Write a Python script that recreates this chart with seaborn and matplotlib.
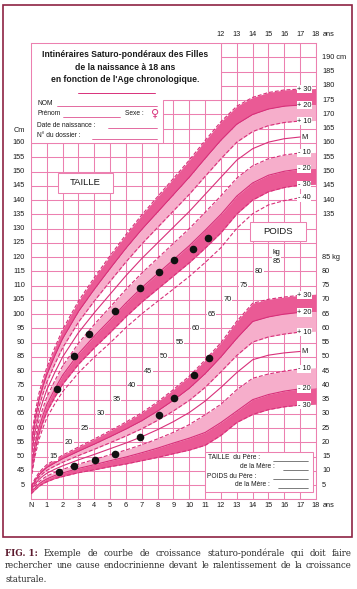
import matplotlib
matplotlib.use("Agg")
import matplotlib.pyplot as plt
from matplotlib.patches import Polygon, Rectangle
import seaborn as sns

# ages (years) at which the reference curves are read
AGES = [0, 0.25, 0.5, 0.75, 1, 1.5, 2, 3, 4, 5, 6, 7, 8, 9, 10, 11, 12, 13, 14, 15, 16, 17, 18]

# height (cm)
H_P30 = [55.5, 65.1, 72.2, 77.0, 81.3, 88.2, 94.6, 104.6, 112.8, 120.5, 127.9, 134.8, 141.2, 147.6, 154.0, 160.9, 167.5, 172.9, 176.0, 177.7, 178.6, 178.9, 179.1]
H_P20 = [53.5, 62.9, 69.8, 74.5, 78.7, 85.3, 91.4, 100.9, 108.7, 116.0, 123.1, 129.7, 135.8, 141.9, 148.0, 154.6, 161.0, 166.6, 170.0, 171.9, 172.9, 173.3, 173.5]
H_P10 = [51.5, 60.7, 67.4, 72.0, 76.1, 82.4, 88.2, 97.2, 104.6, 111.5, 118.3, 124.6, 130.4, 136.2, 142.0, 148.3, 154.5, 160.3, 164.0, 166.1, 167.2, 167.7, 167.9]
H_M = [49.5, 58.5, 65.0, 69.5, 73.5, 79.5, 85.0, 93.5, 100.5, 107.0, 113.5, 119.5, 125.0, 130.5, 136.0, 142.0, 148.0, 154.0, 158.0, 160.3, 161.5, 162.1, 162.3]
H_M10 = [47.5, 56.3, 62.6, 67.0, 70.9, 76.6, 81.8, 89.8, 96.4, 102.5, 108.7, 114.4, 119.6, 124.8, 130.0, 135.7, 141.5, 147.7, 152.0, 154.5, 155.8, 156.5, 156.7]
H_M20 = [45.5, 54.1, 60.2, 64.5, 68.3, 73.7, 78.6, 86.1, 92.3, 98.0, 103.9, 109.3, 114.2, 119.1, 124.0, 129.4, 135.0, 141.4, 146.0, 148.7, 150.1, 150.9, 151.1]
H_M30 = [43.5, 51.9, 57.8, 62.0, 65.7, 70.8, 75.4, 82.4, 88.2, 93.5, 99.1, 104.2, 108.8, 113.4, 118.0, 123.1, 128.5, 135.1, 140.0, 142.9, 144.4, 145.3, 145.5]
H_M40 = [41.9, 50.1, 55.9, 60.0, 63.6, 68.5, 72.8, 79.4, 84.9, 89.9, 95.3, 100.1, 104.5, 108.8, 113.2, 118.1, 123.3, 130.1, 135.2, 138.3, 139.8, 140.8, 141.0]

# weight (kg)
W_P30 = [4.65, 7.25, 9.4, 10.9, 12.2, 13.9, 15.55, 18.4, 21.2, 24.1, 27.15, 30.4, 34.25, 38.55, 43.25, 48.9, 55.0, 62.5, 68.8, 70.2, 71.0, 71.6, 72.0]
W_P20 = [4.2, 6.6, 8.6, 10.0, 11.2, 12.8, 14.3, 16.9, 19.4, 22.0, 24.7, 27.6, 31.0, 34.8, 39.0, 44.1, 50.0, 56.5, 62.4, 64.0, 65.0, 65.6, 65.9]
W_P10 = [3.75, 5.95, 7.8, 9.1, 10.2, 11.7, 13.05, 15.4, 17.6, 19.9, 22.25, 24.8, 27.75, 31.05, 34.75, 39.3, 44.8, 50.5, 55.2, 57.0, 58.0, 58.7, 59.0]
W_M = [3.3, 5.3, 7.0, 8.2, 9.2, 10.6, 11.8, 13.9, 15.8, 17.8, 19.8, 22.0, 24.5, 27.3, 30.5, 34.5, 39.3, 44.5, 49.0, 50.6, 51.4, 51.9, 52.2]
W_M10 = [2.85, 4.65, 6.2, 7.3, 8.2, 9.5, 10.55, 12.4, 14.0, 15.7, 17.35, 19.2, 21.25, 23.55, 26.25, 29.7, 33.4, 38.5, 42.5, 44.0, 45.0, 45.8, 46.2]
W_M20 = [2.4, 4.0, 5.4, 6.4, 7.2, 8.4, 9.3, 10.9, 12.2, 13.6, 14.9, 16.4, 18.0, 19.8, 21.5, 23.5, 27.0, 31.0, 35.0, 36.8, 38.0, 38.8, 39.2]
W_M30 = [1.95, 3.35, 4.6, 5.5, 6.2, 7.3, 8.05, 9.4, 10.4, 11.5, 12.45, 13.6, 14.75, 16.05, 17.3, 19.0, 22.5, 27.0, 29.8, 31.5, 32.5, 33.1, 33.4]

# the child's measurements
DOT_AGE_H = [1.63, 2.71, 3.68, 5.29, 6.9, 8.1, 9.06, 10.23, 11.17]
DOT_H = [73.6, 85.3, 93.1, 101.0, 109.1, 114.8, 118.8, 122.7, 126.8]
DOT_AGE_W = [1.74, 2.71, 4.02, 5.31, 6.9, 8.1, 9.06, 10.3, 11.25]
DOT_W = [9.7, 11.7, 13.8, 15.9, 21.9, 29.6, 35.7, 43.7, 49.7]

H_LABELS = ["+ 30", "+ 20", "+ 10", "M", "- 10", "- 20", "- 30", "- 40"]
W_LABELS = ["+ 30", "+ 20", "+ 10", "M", "- 10", "- 20", "- 30"]
LEFT_CM = list(range(45, 161, 5))
RIGHT_CM = list(range(135, 191, 5))
RIGHT_KG = list(range(5, 86, 5))
DIAG_KG = list(range(15, 81, 5))
AGE_TICKS = ["N"] + [str(a) for a in range(1, 19)]

GRID = "#EC80B0"
LINE = "#D8307A"
DARK = "#EA5A95"
LIGHT = "#F6AECB"
FRAME = "#8E2243"
TXT = "#1a1a1a"

sns.set_style("white")
plt.rcParams["font.family"] = ["Liberation Sans Narrow", "Liberation Sans", "DejaVu Sans"]

fig = plt.figure(figsize=(3.57, 5.89), dpi=100)
ax = fig.add_axes([0.0868, 0.152, 0.7983, 0.7747])
ax.set_xlim(0, 18)
ax.set_ylim(35, 195)
ax.set_xticks(range(19))
ax.set_yticks(range(35, 196, 5))
ax.grid(True, color=GRID, lw=0.75)
ax.set_axisbelow(True)
ax.tick_params(length=0, labelbottom=False, labelleft=False)
for s in ax.spines.values():
    s.set_color(GRID)
    s.set_linewidth(0.75)

ax2 = ax.twinx()
ax2.set_ylim(0, 160)
ax2.axis("off")

H_SET = [H_P30, H_P20, H_P10, H_M, H_M10, H_M20, H_M30, H_M40]
W_SET = [W_P30, W_P20, W_P10, W_M, W_M10, W_M20, W_M30]
STYLES = ["dash", "solid", "dash", "solid", "dash", "solid", "dash", "dash"]
DASH = (0, (3.5, 1.8))

end = AGES.index(17) + 1
for a, data in [(ax, H_SET), (ax2, W_SET)]:
    a.fill_between(AGES, data[1], data[0], color=DARK, lw=0, zorder=1)
    a.fill_between(AGES, data[2], data[1], color=LIGHT, lw=0, zorder=1)
    a.fill_between(AGES, data[5], data[4], color=LIGHT, lw=0, zorder=1)
    a.fill_between(AGES, data[6], data[5], color=DARK, lw=0, zorder=1)
    for vals, st in zip(data, STYLES):
        sns.lineplot(x=AGES[:end], y=vals[:end], ax=a, color=LINE, lw=0.8,
                     linestyle=DASH if st == "dash" else "-", zorder=2)
    a.set_ylabel("")

lab_font = dict(fontsize=5.3, color=TXT, va="center")
box = dict(fc="white", ec="none", pad=0.5)
for lab, vals in zip(H_LABELS, H_SET):
    ax.text(17.27, vals[end - 1], lab, ha="center", bbox=box, zorder=4, **lab_font)
for lab, vals in zip(W_LABELS, W_SET):
    ax2.text(17.27, vals[end - 1], lab, ha="center", bbox=box, zorder=4, **lab_font)

sns.scatterplot(x=DOT_AGE_H, y=DOT_H, ax=ax, color="#111111", s=30, linewidth=0, zorder=5)
sns.scatterplot(x=DOT_AGE_W, y=DOT_W, ax=ax2, color="#111111", s=30, linewidth=0, zorder=5)
ax.set_ylabel("")

# axis labels drawn as text
for h in LEFT_CM:
    ax.text(-0.38, h, str(h), ha="right", **lab_font)
ax.text(-0.38, 164.5, "Cm", ha="right", **lab_font)
ax2.text(-0.38, 5, "5", ha="right", **lab_font)
for h in RIGHT_CM:
    ax.text(18.38, h, f"{h} cm" if h == 190 else str(h), ha="left", **lab_font)
for w in RIGHT_KG:
    ax2.text(18.38, w, f"{w} kg" if w == 85 else str(w), ha="left", **lab_font)
for i, lab in enumerate(AGE_TICKS):
    ax.text(i, 33.0, lab, ha="center", **lab_font)
    if i >= 12:
        ax.text(i, 197.9, lab, ha="center", **lab_font)
for y in (33.0, 197.9):
    ax.text(18.42, y, "ans", ha="left", **lab_font)

# weight scale written along the diagonal
for w in DIAG_KG:
    ax2.text(1.4 + (w - 15) / 5, w, str(w), ha="center",
             bbox=dict(fc="white", ec="none", pad=0.3), zorder=3, **lab_font)
ax2.text(15.5, 83.5, "85", ha="center", bbox=dict(fc="white", ec="none", pad=0.3), zorder=3, **lab_font)
ax2.text(15.5, 86.6, "kg", ha="center", zorder=3, **lab_font)

# header box
ax.add_patch(Polygon([(0, 195), (12, 195), (12, 175.1), (8.34, 175.1), (8.34, 160), (0, 160)],
                     closed=True, fc="white", ec=GRID, lw=0.75, zorder=3))
title_kw = dict(ha="center", va="center", fontsize=6.2, fontweight="bold", color=TXT, zorder=4)
ax.text(5.94, 190.9, "Intinéraires Saturo-pondéraux des Filles", **title_kw)
ax.text(5.94, 186.6, "de la naissance à 18 ans", **title_kw)
ax.text(5.94, 182.1, "en fonction de l'Age chronologique.", **title_kw)
ax.plot([2.97, 7.83], [177.6, 177.6], color=LINE, lw=0.7, zorder=4)

form_kw = dict(ha="left", va="center", fontsize=4.8, color=TXT, zorder=4)
ax.text(0.38, 174.0, "NOM", **form_kw)
ax.text(0.38, 170.2, "Prénom", **form_kw)
ax.text(5.94, 170.2, "Sexe :", **form_kw)
ax.text(7.83, 170.2, "♀", ha="center", va="center", fontsize=8, color=LINE, zorder=4,
        family=["DejaVu Sans"])
ax.text(0.38, 166.3, "Date de naissance :", **form_kw)
ax.text(0.38, 162.5, "N° du dossier :", **form_kw)
for x0, x1, y in [(1.64, 7.96, 173.0), (2.02, 5.62, 169.1), (4.86, 7.96, 165.3), (3.85, 7.96, 161.4)]:
    ax.plot([x0, x1], [y, y], color=LINE, lw=0.5, zorder=4)

# TAILLE / POIDS tags
ax.add_patch(Rectangle((1.7, 142.5), 3.48, 7.0, fc="white", ec=GRID, lw=0.75, zorder=3))
ax.text(3.44, 146.0, "TAILLE", ha="center", va="center", fontsize=6.8, color=TXT, zorder=4)
ax.add_patch(Rectangle((13.83, 125.6), 3.54, 6.7, fc="white", ec=GRID, lw=0.75, zorder=3))
ax.text(15.6, 129.0, "POIDS", ha="center", va="center", fontsize=6.8, color=TXT, zorder=4)

# parents box
ax.add_patch(Rectangle((11.0, 37.6), 6.8, 14.1, fc="white", ec=GRID, lw=0.75, zorder=3))
par_kw = dict(ha="left", va="center", fontsize=4.8, color=TXT, zorder=4)
ax.text(11.18, 49.6, "TAILLE  du Père :", **par_kw)
ax.text(13.2, 46.4, "de la Mère :", **par_kw)
ax.text(11.12, 43.2, "POIDS du Père :", **par_kw)
ax.text(12.9, 40.1, "de la Mère :", **par_kw)
for x0, y in [(15.29, 48.6), (15.92, 45.4), (15.29, 42.2), (15.6, 39.1)]:
    ax.plot([x0, 17.5], [y, y], color=TXT, lw=0.4, zorder=4)

# outer frame
fig.add_artist(Rectangle((3 / 357, 1 - 537 / 589), 349 / 357, 532 / 589,
                         transform=fig.transFigure, fill=False, ec=FRAME, lw=1.2))

# caption, justified by hand
renderer = fig.canvas.get_renderer()
serif = ["DejaVu Serif"]
line1 = "Exemple de courbe de croissance staturo-pondérale qui doit faire".split()
line2 = "rechercher une cause endocrinienne devant le ralentissement de la croissance".split()

# size the caption font so that the second line fills the frame width
probe = fig.text(0, 0, " ".join(line2), fontsize=6, family=serif)
cap_size = 6 * 344 / probe.get_window_extent(renderer).width
probe.remove()
cap_kw = dict(fontsize=cap_size, family=serif, color="#2a2a2a", va="center")


def put_line(parts, y, justify=True):
    texts = [fig.text(0, y, w, **{**cap_kw, **extra}) for w, extra in parts]
    widths = [t.get_window_extent(renderer).width for t in texts]
    gap = (352 - 5 - sum(widths)) / (len(texts) - 1) if justify else 2.6
    x = 5
    for t, wd in zip(texts, widths):
        t.set_x(x / 357)
        x += wd + gap


put_line([("FIG. 1:", dict(fontweight="bold", color="#5c1a2e"))] + [(w, {}) for w in line1], 1 - 553 / 589)
put_line([(w, {}) for w in line2], 1 - 566 / 589)
put_line([("staturale.", {})], 1 - 579 / 589, justify=False)

fig.savefig("out.png", dpi=100)
